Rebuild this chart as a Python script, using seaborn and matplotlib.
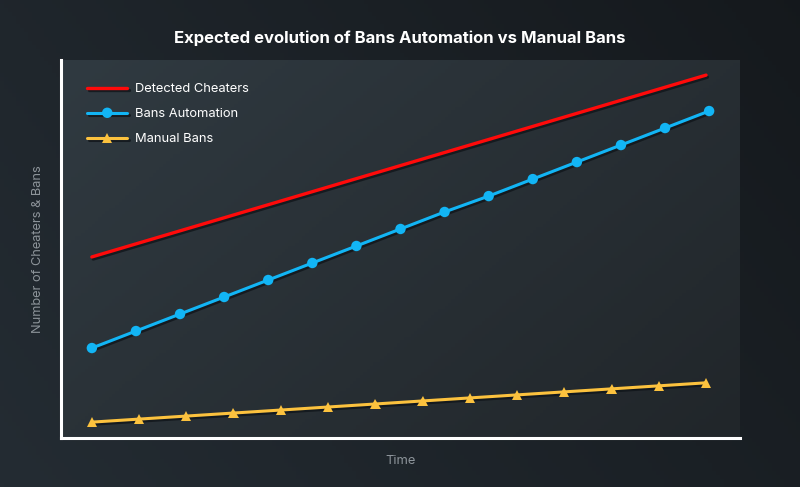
import numpy as np
import pandas as pd
import matplotlib
matplotlib.use("Agg")
import matplotlib.pyplot as plt
import matplotlib.patheffects as pe
import seaborn as sns

# data (arbitrary units)
cheaters_x = [0.0, 13.93]
cheaters_y = [47.9, 96.0]

auto_x = [0, 1, 2, 3, 4, 5, 6, 7, 8, 9, 10, 11, 12, 13, 14]
auto_y = [23.8, 28.3, 32.8, 37.3, 41.8, 46.3, 50.8, 55.3, 59.8, 64.0,
          68.5, 73.0, 77.5, 82.0, 86.5]

manual_x = [0.0, 1.07, 2.14, 3.21, 4.29, 5.36, 6.43, 7.5, 8.57, 9.64,
            10.71, 11.79, 12.86, 13.93]
manual_y = [4.2, 5.0, 5.8, 6.6, 7.4, 8.2, 9.0, 9.8, 10.6, 11.4,
            12.2, 13.0, 13.8, 14.6]

sns.set_style("white")
plt.rcParams['font.family'] = ['Inter', 'DejaVu Sans']

fig = plt.figure(figsize=(8, 4.87), dpi=100)

# dark gradient page background
bg = fig.add_axes([0, 0, 1, 1], zorder=-10)
gx, gy = np.meshgrid(np.linspace(0, 1, 200), np.linspace(0, 1, 120))
g = 0.55 * gx + 0.25 * (1 - gy)
c0 = np.array([0x24, 0x2c, 0x33]) / 255
c1 = np.array([0x11, 0x14, 0x17]) / 255
img = c0[None, None, :] * (1 - g[..., None]) + c1[None, None, :] * g[..., None]
bg.imshow(img, aspect="auto", extent=[0, 1, 0, 1], origin="upper")
bg.axis("off")

ax = fig.add_axes([61 / 800, 1 - 438 / 487, (740 - 61) / 800, (438 - 60) / 487])

# lighter gradient inside plot area
ix, iy = np.meshgrid(np.linspace(0, 1, 200), np.linspace(0, 1, 120))
gi = 0.6 * ix + 0.4 * iy
d0 = np.array([0x30, 0x3a, 0x41]) / 255
d1 = np.array([0x21, 0x26, 0x2a]) / 255
img2 = d0[None, None, :] * (1 - gi[..., None]) + d1[None, None, :] * gi[..., None]
ax.imshow(img2, aspect="auto", extent=[0, 1, 0, 1], transform=ax.transAxes,
          zorder=0, origin="upper")

shadow = [pe.SimpleLineShadow(offset=(1, -1.5), shadow_color="#10151a", alpha=0.8),
          pe.Normal()]

df_c = pd.DataFrame({"x": cheaters_x, "y": cheaters_y})
df_a = pd.DataFrame({"x": auto_x, "y": auto_y})
df_m = pd.DataFrame({"x": manual_x, "y": manual_y})

sns.lineplot(data=df_c, x="x", y="y", ax=ax, color="#ff0a0a", linewidth=2.4,
             label="Detected Cheaters", zorder=3)
sns.lineplot(data=df_a, x="x", y="y", ax=ax, color="#12b5f5", linewidth=2.2,
             marker="o", markersize=7.5, markeredgewidth=0,
             label="Bans Automation", zorder=3)
sns.lineplot(data=df_m, x="x", y="y", ax=ax, color="#fcc23e", linewidth=2.2,
             marker="^", markersize=7.5, markeredgewidth=0,
             label="Manual Bans", zorder=3)
for ln in ax.lines:
    ln.set_path_effects(shadow)

ax.set_xlim(-0.70, 14.70)
ax.set_ylim(0, 100)
ax.set_xticks([])
ax.set_yticks([])
for s in ["top", "right"]:
    ax.spines[s].set_visible(False)
for s in ["left", "bottom"]:
    ax.spines[s].set_color("white")
    ax.spines[s].set_linewidth(2.2)
    ax.spines[s].set_zorder(5)

ax.set_xlabel("Time", color="#8d949a", fontsize=9.3, labelpad=12)
ax.set_ylabel("Number of Cheaters & Bans", color="#8d949a", fontsize=9.2, labelpad=12)

leg = ax.legend(loc="upper left", frameon=False, fontsize=9.3, handlelength=3.1,
                handletextpad=0.6, labelspacing=1.0, borderaxespad=0.0,
                bbox_to_anchor=(0.031, 0.952))
for t in leg.get_texts():
    t.set_color("white")

fig.text(0.5, 1 - 38 / 487, "Expected evolution of Bans Automation vs Manual Bans",
         color="white", fontsize=12, fontweight="bold", ha="center", va="center")

fig.savefig("out.png", dpi=100)
